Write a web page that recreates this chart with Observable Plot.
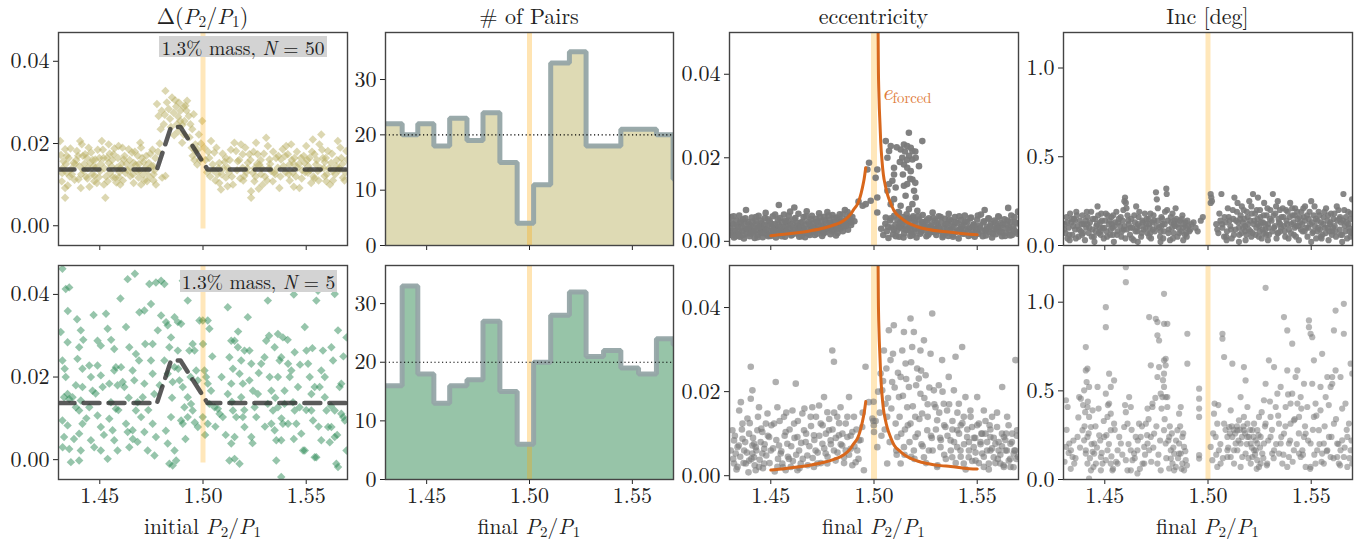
<!DOCTYPE html>
<html>
<head>
<meta charset="utf-8">
<script src="https://cdn.jsdelivr.net/npm/d3@7"></script>
<script src="https://cdn.jsdelivr.net/npm/@observablehq/plot@0.6"></script>
<style>
body{margin:0;background:#fff}
#root{position:relative;width:1369px;height:540px;overflow:hidden;color:#222;background:#fff}
.t{position:absolute;text-align:center;font-size:22px;line-height:22px;white-space:nowrap}
.xl{font-size:21.5px;line-height:20px}
sub{font-size:70%;vertical-align:-0.22em;line-height:0}
.panel{position:absolute}
.box{position:absolute;background:#d3d3d3;font-size:19.5px;line-height:22px;text-align:center;white-space:nowrap}
</style>
</head>
<body>
<div id="root"></div>
<script>
// ---------------- data ----------------
const xTicks = [1.45, 1.50, 1.55];
const titles = ["Δ(<i>P</i><sub>2</sub>/<i>P</i><sub>1</sub>)", "# of Pairs", "eccentricity", "Inc [deg]"];
const xLabels = ["initial <i>P</i><sub>2</sub>/<i>P</i><sub>1</sub>", "final <i>P</i><sub>2</sub>/<i>P</i><sub>1</sub>", "final <i>P</i><sub>2</sub>/<i>P</i><sub>1</sub>", "final <i>P</i><sub>2</sub>/<i>P</i><sub>1</sub>"];
const boxLabels = ["1.3% mass, <i>N</i> = 50", "1.3% mass, <i>N</i> = 5"];

// binned median of Δ(P2/P1)
const medX = [1.43, 1.4777, 1.4845, 1.4891, 1.5022, 1.57];
const medY = [0.0137, 0.0137, 0.0240, 0.0240, 0.0137, 0.0137];

// histogram bins (final P2/P1)
const binEdges = [1.422, 1.4381, 1.4457, 1.4535, 1.4612, 1.4696, 1.4774, 1.4856, 1.4940, 1.5020, 1.5103, 1.5194, 1.5275, 1.5360, 1.5444, 1.5530, 1.5617, 1.5698, 1.578];
const countsTop = [22, 20, 22, 18, 23, 19, 24, 15, 4, 11, 33, 35, 18, 18, 21, 21, 20, 12];
const countsBot = [16, 33, 18, 13, 16, 17, 27, 15, 6, 20, 28, 32, 21, 22, 19, 18, 24, 23];

// forced eccentricity curve
const eForcedLeft = [[1.4500,0.00136],[1.4565,0.00168],[1.4629,0.00207],[1.4694,0.00255],[1.4758,0.00319],[1.4806,0.00390],[1.4839,0.00454],[1.4863,0.00533],[1.4887,0.00652],[1.4903,0.00771],[1.4920,0.00890],[1.4932,0.01049],[1.4944,0.01287],[1.4952,0.01485],[1.4960,0.01763]];
const eForcedRight = [[1.50195,0.0525],[1.50211,0.0422],[1.50243,0.0343],[1.50292,0.0279],[1.50324,0.0240],[1.50389,0.0192],[1.50453,0.0160],[1.50550,0.0133],[1.50647,0.0113],[1.50808,0.0091],[1.50969,0.0073],[1.51292,0.0057],[1.51614,0.0045],[1.52098,0.0035],[1.52582,0.0029],[1.53227,0.0024],[1.53711,0.0022],[1.54356,0.0018],[1.55001,0.0016]];

// Δ(P2/P1) vs initial P2/P1, N = 50
const dpTop = [
[1.4308,0.0206],[1.4332,0.0186],[1.4324,0.0157],[1.4349,0.0165],[1.4340,0.0129],[1.4316,0.0108],[1.4332,0.0092],[1.4332,0.0068],[1.4373,0.0153],[1.4365,0.0125],[1.4389,0.0182],[1.4397,0.0113],[1.4405,0.0206],[1.4413,0.0198],[1.4429,0.0174],[1.4438,0.0165],[1.4446,0.0190],[1.4454,0.0153],[1.4462,0.0125],[1.4470,0.0145],[1.4478,0.0161],[1.4486,0.0104],[1.4502,0.0133],[1.4510,0.0206],[1.4527,0.0068],[1.4518,0.0165],[1.4543,0.0198],[1.4543,0.0153],[1.4551,0.0129],[1.4567,0.0174],[1.4575,0.0117],[1.4583,0.0141],[1.4591,0.0194],[1.4599,0.0100],[1.4616,0.0161],[1.4624,0.0129],[1.4640,0.0186],[1.4648,0.0121],[1.4664,0.0153],[1.4664,0.0104],[1.4680,0.0133],[1.4688,0.0117],[1.4696,0.0202],[1.4705,0.0165],[1.4721,0.0141],[1.4729,0.0108],[1.4737,0.0153],[1.4761,0.0125],[1.4769,0.0165],
[1.4320,0.0140],[1.4355,0.0120],[1.4380,0.0150],[1.4395,0.0170],[1.4420,0.0135],[1.4440,0.0115],[1.4450,0.0095],[1.4475,0.0122],[1.4490,0.0185],[1.4505,0.0150],[1.4530,0.0120],[1.4560,0.0160],[1.4580,0.0105],[1.4595,0.0130],[1.4610,0.0190],[1.4630,0.0150],[1.4650,0.0140],[1.4670,0.0180],[1.4690,0.0150],[1.4710,0.0125],[1.4730,0.0135],[1.4745,0.0175],[1.4760,0.0145],[1.4340,0.0170],[1.4410,0.0125],[1.4520,0.0100],[1.4600,0.0140],[1.4700,0.0100],[1.4760,0.0110],
[1.4312,0.0172],[1.4318,0.0128],[1.4336,0.0150],[1.4345,0.0098],[1.4358,0.0188],[1.4362,0.0138],[1.4378,0.0112],[1.4386,0.0160],[1.4401,0.0145],[1.4408,0.0092],[1.4418,0.0170],[1.4425,0.0150],[1.4433,0.0120],[1.4442,0.0140],[1.4458,0.0178],[1.4466,0.0160],[1.4473,0.0108],[1.4482,0.0142],[1.4495,0.0118],[1.4498,0.0165],[1.4515,0.0185],[1.4522,0.0140],[1.4535,0.0165],[1.4538,0.0108],[1.4548,0.0175],[1.4557,0.0145],[1.4563,0.0118],[1.4571,0.0188],[1.4588,0.0165],[1.4593,0.0118],[1.4605,0.0150],[1.4612,0.0110],[1.4620,0.0170],[1.4635,0.0135],[1.4644,0.0160],[1.4656,0.0178],[1.4660,0.0125],[1.4674,0.0148],[1.4684,0.0170],[1.4693,0.0135],[1.4700,0.0190],[1.4712,0.0155],[1.4716,0.0110],[1.4725,0.0170],[1.4740,0.0120],[1.4750,0.0145],[1.4755,0.0185],[1.4765,0.0135],[1.4772,0.0100],
[1.4777,0.0296],[1.4785,0.0267],[1.4802,0.0117],[1.4810,0.0247],[1.4818,0.0121],[1.4818,0.0328],[1.4834,0.0284],[1.4850,0.0312],[1.4858,0.0275],[1.4874,0.0247],[1.4883,0.0300],[1.4891,0.0280],[1.4899,0.0202],[1.4907,0.0222],[1.4915,0.0292],[1.4923,0.0304],[1.4931,0.0267],[1.4939,0.0247],[1.4955,0.0271],[1.4963,0.0198],[1.4963,0.0182],[1.4972,0.0149],[1.4980,0.0222],[1.4996,0.0255],
[1.4800,0.0280],[1.4840,0.0260],[1.4870,0.0290],[1.4880,0.0265],[1.4900,0.0245],[1.4920,0.0280],[1.4945,0.0190],[1.4950,0.0170],[1.4985,0.0160],[1.4880,0.0230],[1.4860,0.0220],[1.4790,0.0200],
[1.4782,0.0180],[1.4795,0.0235],[1.4815,0.0270],[1.4825,0.0300],[1.4845,0.0240],[1.4865,0.0305],[1.4890,0.0255],[1.4905,0.0290],[1.4910,0.0255],[1.4935,0.0215],[1.4948,0.0235],[1.4958,0.0160],[1.4975,0.0185],[1.4990,0.0200],
[1.5006,0.0190],[1.5039,0.0206],[1.5030,0.0165],[1.5055,0.0178],[1.5047,0.0149],[1.5079,0.0153],[1.5071,0.0125],[1.5079,0.0104],[1.5087,0.0088],[1.5111,0.0165],[1.5119,0.0141],[1.5111,0.0117],[1.5119,0.0096],[1.5152,0.0202],[1.5160,0.0182],[1.5168,0.0157],[1.5184,0.0198],[1.5192,0.0174],[1.5192,0.0141],[1.5200,0.0121],[1.5217,0.0153],[1.5225,0.0174],[1.5233,0.0084],[1.5233,0.0068],[1.5241,0.0129],[1.5249,0.0108],[1.5257,0.0202],[1.5265,0.0174],[1.5273,0.0149],[1.5281,0.0125],[1.5289,0.0100],[1.5306,0.0214],[1.5314,0.0194],[1.5322,0.0161],[1.5330,0.0133],[1.5338,0.0108],[1.5354,0.0165],[1.5362,0.0141],[1.5370,0.0092],[1.5378,0.0161],[1.5386,0.0186],[1.5403,0.0194],[1.5411,0.0174],[1.5419,0.0149],[1.5427,0.0198],[1.5435,0.0129],[1.5443,0.0165],[1.5459,0.0141],[1.5467,0.0092],[1.5475,0.0165],[1.5492,0.0153],[1.5500,0.0194],[1.5508,0.0129],[1.5516,0.0165],[1.5524,0.0104],[1.5532,0.0210],[1.5540,0.0174],[1.5548,0.0149],[1.5556,0.0133],[1.5564,0.0198],[1.5573,0.0222],[1.5581,0.0165],[1.5589,0.0121],[1.5597,0.0108],[1.5605,0.0182],[1.5621,0.0153],[1.5629,0.0133],[1.5645,0.0145],[1.5653,0.0206],[1.5670,0.0165],[1.5678,0.0117],[1.5694,0.0182],
[1.5020,0.0130],[1.5060,0.0110],[1.5100,0.0140],[1.5140,0.0120],[1.5180,0.0115],[1.5210,0.0130],[1.5250,0.0140],[1.5300,0.0120],[1.5320,0.0140],[1.5350,0.0125],[1.5400,0.0130],[1.5420,0.0110],[1.5450,0.0120],[1.5480,0.0135],[1.5510,0.0145],[1.5540,0.0115],[1.5570,0.0140],[1.5600,0.0125],[1.5630,0.0110],[1.5660,0.0140],[1.5690,0.0130],[1.5130,0.0160],[1.5280,0.0160],[1.5440,0.0150],[1.5590,0.0155],[1.5270,0.0090],
[1.5012,0.0160],[1.5025,0.0180],[1.5035,0.0120],[1.5050,0.0135],[1.5065,0.0190],[1.5075,0.0140],[1.5090,0.0125],[1.5095,0.0175],[1.5105,0.0155],[1.5125,0.0130],[1.5135,0.0185],[1.5145,0.0100],[1.5165,0.0135],[1.5175,0.0160],[1.5195,0.0110],[1.5205,0.0190],[1.5215,0.0140],[1.5230,0.0160],[1.5245,0.0180],[1.5255,0.0120],[1.5262,0.0150],[1.5285,0.0140],[1.5295,0.0175],[1.5310,0.0110],[1.5325,0.0150],[1.5340,0.0180],[1.5345,0.0130],[1.5365,0.0170],[1.5375,0.0120],[1.5390,0.0145],[1.5398,0.0170],[1.5415,0.0125],[1.5430,0.0160],[1.5440,0.0095],[1.5455,0.0180],[1.5465,0.0150],[1.5478,0.0115],[1.5488,0.0170],[1.5495,0.0130],[1.5505,0.0160],[1.5520,0.0135],[1.5528,0.0180],[1.5535,0.0120],[1.5552,0.0160],[1.5560,0.0110],[1.5577,0.0185],[1.5585,0.0140],[1.5595,0.0165],[1.5610,0.0140],[1.5615,0.0100],[1.5625,0.0175],[1.5640,0.0125],[1.5648,0.0160],[1.5658,0.0135],[1.5665,0.0190],[1.5675,0.0150],[1.5685,0.0110],[1.5698,0.0160]
];

// Δ(P2/P1) vs initial P2/P1, N = 5
const dpBot = [
[1.4319,0.0462],[1.4335,0.0413],[1.4352,0.0417],[1.4311,0.0309],[1.4344,0.0284],[1.4319,0.0240],[1.4335,0.0200],[1.4344,0.0159],[1.4327,0.0151],[1.4352,0.0147],[1.4368,0.0151],[1.4319,0.0095],[1.4344,0.0083],[1.4327,0.0055],[1.4352,0.0026],[1.4360,-0.0006],[1.4384,0.0127],[1.4400,0.0119],[1.4408,0.0022],[1.4400,-0.0002],[1.4408,0.0313],[1.4400,0.0272],[1.4416,0.0220],[1.4392,0.0244],[1.4384,0.0180],[1.4416,0.0176],[1.4408,0.0143],[1.4416,0.0087],[1.4400,0.0063],
[1.4449,0.0228],[1.4457,0.0200],[1.4465,0.0167],[1.4449,0.0127],[1.4457,0.0047],[1.4473,0.0030],[1.4489,0.0288],[1.4505,0.0276],[1.4489,0.0228],[1.4505,0.0204],[1.4514,0.0176],[1.4489,0.0107],[1.4505,0.0079],[1.4505,0.0022],[1.4530,0.0353],[1.4538,0.0317],[1.4546,0.0184],[1.4554,0.0139],[1.4546,0.0099],[1.4562,0.0071],[1.4538,0.0002],[1.4570,0.0268],[1.4578,0.0224],[1.4586,0.0180],[1.4578,0.0123],[1.4570,0.0047],[1.4586,0.0022],[1.4570,0.0216],
[1.4603,0.0224],[1.4611,0.0188],[1.4619,0.0176],[1.4627,0.0087],[1.4635,0.0067],[1.4643,0.0030],[1.4627,0.0321],[1.4635,0.0437],[1.4643,0.0272],[1.4659,0.0216],[1.4675,0.0256],[1.4667,0.0192],[1.4683,0.0139],[1.4675,0.0119],[1.4659,0.0071],[1.4683,0.0043],[1.4692,0.0357],[1.4716,0.0361],[1.4716,0.0184],[1.4708,0.0151],[1.4700,0.0103],[1.4716,0.0067],[1.4732,0.0022],[1.4740,0.0425],[1.4748,0.0377],[1.4756,0.0280],[1.4748,0.0240],[1.4756,0.0208],[1.4764,0.0159],[1.4756,0.0087],[1.4772,0.0055],[1.4772,0.0429],[1.4781,0.0313],
[1.4797,0.0433],[1.4813,0.0425],[1.4797,0.0349],[1.4821,0.0333],[1.4829,0.0325],[1.4837,0.0272],[1.4813,0.0240],[1.4829,0.0208],[1.4853,0.0188],[1.4862,0.0224],[1.4845,0.0296],[1.4862,0.0345],[1.4878,0.0333],[1.4894,0.0329],[1.4902,0.0433],[1.4878,0.0264],[1.4886,0.0192],[1.4902,0.0176],[1.4845,0.0103],[1.4829,0.0039],[1.4837,-0.0010],[1.4853,-0.0014],[1.4862,0.0022],[1.4894,0.0095],[1.4902,0.0087],[1.4910,0.0127],[1.4926,0.0151],[1.4942,0.0135],[1.4950,0.0280],[1.4934,0.0264],[1.4959,0.0264],[1.4967,0.0216],[1.4975,0.0192],[1.4983,0.0337],[1.4926,0.0385],[1.4950,0.0119],[1.4975,0.0079],[1.4926,0.0103],[1.4870,-0.0002],
[1.4999,0.0337],[1.5023,0.0337],[1.5031,0.0317],[1.5007,0.0216],[1.5015,0.0200],[1.5023,0.0184],[1.5039,0.0167],[1.4999,0.0103],[1.5023,0.0087],[1.5031,0.0135],[1.5056,0.0127],[1.5072,0.0123],[1.5080,0.0111],[1.5096,0.0103],[1.5120,0.0369],[1.5137,0.0288],[1.5153,0.0288],[1.5128,0.0248],[1.5145,0.0220],[1.5137,0.0184],[1.5120,0.0159],[1.5145,0.0119],[1.5161,0.0103],[1.5137,0.0039],[1.5128,-0.0002],[1.5153,0.0055],[1.5169,0.0272],[1.5185,0.0240],[1.5177,0.0208],[1.5185,0.0151],[1.5193,0.0103],[1.5201,0.0079],[1.5153,0.0002],[1.5177,-0.0010],
[1.5193,0.0184],[1.5201,0.0264],[1.5217,0.0345],[1.5225,0.0264],[1.5234,0.0232],[1.5225,0.0192],[1.5242,0.0167],[1.5250,0.0127],[1.5258,0.0103],[1.5234,0.0055],[1.5266,0.0159],[1.5282,0.0232],[1.5298,0.0248],[1.5314,0.0385],[1.5306,0.0288],[1.5323,0.0200],[1.5331,0.0167],[1.5314,0.0135],[1.5339,0.0119],[1.5347,0.0071],[1.5355,0.0047],[1.5331,0.0087],[1.5355,-0.0002],[1.5363,0.0200],[1.5371,0.0240],[1.5379,0.0248],[1.5387,0.0296],[1.5395,0.0167],[1.5395,0.0135],[1.5387,0.0087],[1.5379,0.0047],[1.5363,0.0127],[1.5347,0.0272],[1.5363,0.0304],
[1.5412,0.0232],[1.5420,0.0200],[1.5428,0.0216],[1.5436,0.0139],[1.5444,0.0260],[1.5452,0.0087],[1.5460,0.0176],[1.5468,0.0127],[1.5476,0.0063],[1.5485,0.0022],[1.5493,0.0022],[1.5493,0.0321],[1.5501,0.0264],[1.5509,0.0232],[1.5517,0.0200],[1.5525,0.0159],[1.5525,0.0119],[1.5533,0.0095],[1.5541,0.0006],[1.5549,0.0006],[1.5549,0.0385],[1.5557,0.0409],[1.5565,0.0176],[1.5573,0.0216],[1.5581,0.0264],[1.5590,0.0151],[1.5598,0.0119],[1.5606,0.0079],[1.5614,0.0042],[1.5622,0.0272],[1.5630,0.0240],[1.5638,0.0119],[1.5646,-0.0010],[1.5654,0.0313],[1.5662,0.0176],[1.5670,0.0184],[1.5670,0.0111],[1.5679,0.0103],[1.5687,0.0095],[1.5695,0.0022],[1.5695,0.0296],[1.5638,0.0401],[1.5654,-0.0018],[1.5573,0.0047],[1.5541,0.0176],[1.5444,0.0119],[1.5412,0.0087],[1.5379,-0.0042],[1.5622,0.0079],[1.5638,0.0055],
[1.4330,0.0220],[1.4345,0.0360],[1.4375,0.0050],[1.4390,0.0340],[1.4420,0.0290],[1.4435,0.0100],[1.4470,0.0350],[1.4480,0.0160],[1.4520,0.0060],[1.4555,0.0290],[1.4590,0.0120],[1.4600,0.0390],[1.4640,0.0150],[1.4660,0.0050],[1.4690,0.0240],[1.4720,0.0280],[1.4735,0.0120],[1.4765,0.0010],[1.4790,0.0180],[1.4820,0.0070],[1.4850,0.0150],[1.4880,0.0220],[1.4915,0.0050],[1.4940,0.0200],[1.4960,0.0090],[1.5010,0.0060],[1.5045,0.0250],[1.5060,0.0080],[1.5090,0.0200],[1.5110,0.0060],[1.5140,0.0140],[1.5170,0.0310],[1.5200,0.0120],[1.5240,0.0040],[1.5270,0.0210],[1.5300,0.0080],[1.5320,0.0300],[1.5350,0.0150],[1.5380,0.0100],[1.5410,0.0290],[1.5440,0.0050],[1.5470,0.0230],[1.5500,0.0120],[1.5530,0.0270],[1.5560,0.0080],[1.5590,0.0200],[1.5620,0.0130],[1.5650,0.0060],[1.5680,0.0250],[1.5440,0.0400],[1.5250,0.0420],[1.5060,0.0440],[1.4670,0.0450],[1.4320,0.0030],[1.5000,0.0280]
];

// eccentricity vs final P2/P1, N = 50
const ecTop = [
[1.4305,.0032],[1.4308,.0058],[1.4312,.0015],[1.4318,.0041],[1.4322,.0009],[1.4327,.0026],[1.4333,.0050],[1.4338,.0018],[1.4342,.0035],[1.4347,.0062],[1.4351,.0011],[1.4356,.0044],[1.4361,.0024],[1.4366,.0053],[1.4370,.0007],[1.4375,.0031],[1.4380,.0075],[1.4384,.0019],[1.4389,.0046],[1.4393,.0028],[1.4398,.0012],[1.4403,.0038],[1.4408,.0057],[1.4413,.0022],[1.4418,.0033],[1.4422,.0008],[1.4427,.0049],[1.4432,.0027],[1.4437,.0016],[1.4441,.0061],[1.4446,.0036],[1.4451,.0021],[1.4456,.0043],[1.4461,.0010],[1.4466,.0030],[1.4471,.0055],[1.4475,.0068],[1.4480,.0017],[1.4485,.0039],[1.4490,.0025],[1.4495,.0048],[1.4500,.0013],[1.4505,.0034],[1.4510,.0060],[1.4515,.0022],[1.4520,.0041],[1.4525,.0009],[1.4530,.0029],[1.4534,.0052],[1.4539,.0087],[1.4544,.0035],[1.4549,.0018],[1.4554,.0046],[1.4559,.0026],[1.4564,.0064],[1.4569,.0011],[1.4574,.0037],[1.4579,.0021],[1.4584,.0050],[1.4589,.0031],[1.4594,.0071],[1.4599,.0014],[1.4604,.0042],[1.4609,.0027],[1.4614,.0081],[1.4619,.0056],[1.4624,.0019],[1.4629,.0038],[1.4634,.0066],[1.4639,.0024],[1.4644,.0045],[1.4649,.0012],[1.4654,.0033],[1.4659,.0058],[1.4664,.0020],[1.4669,.0040],[1.4674,.0072],[1.4679,.0029],[1.4684,.0047],[1.4689,.0015],[1.4694,.0036],[1.4699,.0061],[1.4704,.0023],[1.4709,.0044],[1.4714,.0032],[1.4719,.0054],[1.4724,.0018],[1.4729,.0039],[1.4734,.0067],[1.4739,.0026],[1.4744,.0049],[1.4749,.0013],[1.4754,.0035],[1.4759,.0059],[1.4764,.0022],[1.4769,.0043],[1.4774,.0070],[1.4779,.0030],[1.4784,.0051],[1.4789,.0017],[1.4794,.0038],[1.4799,.0063],[1.4804,.0027],[1.4809,.0046],[1.4814,.0034],[1.4819,.0057],[1.4824,.0020],[1.4829,.0041],[1.4834,.0065],[1.4839,.0031],[1.4844,.0050],[1.4849,.0024],[1.4854,.0044],[1.4859,.0075],[1.4864,.0036],[1.4869,.0055],[1.4874,.0028],[1.4879,.0047],[1.4884,.0062],[1.4889,.0039],[1.4895,.0058],[1.4905,.0048],[1.4925,.0095],[1.4945,.0085],
[1.4315,.0025],[1.4345,.0014],[1.4372,.0045],[1.4400,.0027],[1.4430,.0040],[1.4458,.0029],[1.4488,.0012],[1.4518,.0030],[1.4546,.0024],[1.4576,.0046],[1.4606,.0020],[1.4636,.0030],[1.4666,.0010],[1.4696,.0026],[1.4726,.0046],[1.4756,.0024],[1.4786,.0033],[1.4816,.0014],[1.4846,.0037],[1.4876,.0045],
[1.4302,.0020],[1.4310,.0044],[1.4320,.0060],[1.4329,.0012],[1.4336,.0038],[1.4344,.0023],[1.4353,.0048],[1.4360,.0033],[1.4368,.0016],[1.4377,.0055],[1.4386,.0030],[1.4395,.0041],[1.4402,.0018],[1.4411,.0047],[1.4420,.0025],[1.4428,.0058],[1.4436,.0010],[1.4444,.0034],[1.4453,.0050],[1.4462,.0020],[1.4470,.0039],[1.4478,.0027],[1.4486,.0053],[1.4494,.0015],[1.4503,.0042],[1.4512,.0026],[1.4521,.0064],[1.4528,.0019],[1.4536,.0040],[1.4545,.0056],[1.4553,.0012],[1.4561,.0033],[1.4570,.0049],[1.4578,.0024],[1.4587,.0061],[1.4595,.0038],[1.4603,.0016],[1.4612,.0052],[1.4620,.0030],[1.4630,.0044],[1.4638,.0011],[1.4646,.0034],[1.4655,.0047],[1.4662,.0026],[1.4671,.0060],[1.4680,.0018],[1.4688,.0041],[1.4696,.0053],[1.4705,.0031],[1.4713,.0015],[1.4722,.0046],[1.4730,.0028],[1.4738,.0058],[1.4747,.0037],[1.4755,.0019],[1.4763,.0050],[1.4772,.0032],[1.4780,.0062],[1.4788,.0043],[1.4797,.0024],[1.4806,.0056],[1.4813,.0040],[1.4822,.0030],[1.4831,.0052],[1.4840,.0045],[1.4848,.0064],[1.4856,.0038],[1.4865,.0048],[1.4872,.0070],[1.4882,.0052],[1.4890,.0045],
[1.4976,.0188],[1.4968,.0172],[1.5016,.0172],[1.5008,.0152],[1.5016,.0105],[1.4984,.0097],[1.5016,.0069],[1.4960,.0089],[1.5057,.0240],[1.5081,.0228],[1.5073,.0216],[1.5065,.0200],[1.5097,.0176],[1.5097,.0160],[1.5089,.0145],[1.5073,.0137],[1.5105,.0129],[1.5065,.0121],[1.5145,.0232],[1.5161,.0228],[1.5169,.0260],[1.5178,.0224],[1.5129,.0220],[1.5137,.0200],[1.5186,.0216],[1.5234,.0240],[1.5186,.0196],[1.5145,.0184],[1.5161,.0176],[1.5202,.0200],[1.5218,.0180],[1.5178,.0168],[1.5186,.0148],[1.5161,.0137],[1.5145,.0133],[1.5194,.0121],[1.5153,.0109],[1.5202,.0105],[1.5186,.0089],[1.5169,.0077],[1.5129,.0085],[1.5121,.0069],[1.5210,.0073],[1.5097,.0101],[1.5081,.0089],[1.5057,.0057],
[1.5110,.0225],[1.5150,.0215],[1.5170,.0205],[1.5125,.0190],[1.5200,.0215],[1.5160,.0195],[1.5140,.0160],[1.5175,.0150],[1.5200,.0140],[1.5190,.0060],[1.5165,.0055],[1.5140,.0050],
[1.5035,.0030],[1.5045,.0015],[1.5055,.0042],[1.5062,.0024],[1.5070,.0008],[1.5078,.0050],[1.5085,.0033],[1.5092,.0017],[1.5098,.0061],[1.5104,.0040],[1.5110,.0025],[1.5116,.0070],[1.5122,.0011],[1.5128,.0046],[1.5134,.0031],[1.5140,.0058],[1.5146,.0019],[1.5152,.0038],[1.5158,.0065],[1.5164,.0027],[1.5170,.0049],[1.5176,.0013],[1.5182,.0036],[1.5188,.0056],[1.5194,.0022],[1.5200,.0043],[1.5206,.0009],[1.5212,.0031],[1.5218,.0052],[1.5224,.0018],[1.5230,.0040],[1.5236,.0063],[1.5242,.0026],[1.5248,.0047],[1.5254,.0012],[1.5260,.0034],[1.5266,.0055],[1.5272,.0021],[1.5278,.0041],[1.5284,.0069],[1.5290,.0029],[1.5296,.0050],[1.5302,.0015],[1.5308,.0037],[1.5314,.0060],[1.5320,.0024],[1.5326,.0045],[1.5332,.0010],[1.5338,.0032],[1.5344,.0054],[1.5350,.0020],[1.5356,.0042],[1.5362,.0066],[1.5368,.0028],[1.5374,.0048],[1.5380,.0016],[1.5386,.0035],[1.5392,.0058],[1.5398,.0023],[1.5404,.0044],[1.5410,.0007],[1.5416,.0030],[1.5422,.0051],[1.5428,.0019],[1.5434,.0039],[1.5440,.0062],[1.5446,.0026],[1.5452,.0046],[1.5458,.0013],[1.5464,.0033],[1.5470,.0057],[1.5476,.0021],[1.5482,.0041],[1.5488,.0011],[1.5494,.0030],[1.5500,.0052],[1.5506,.0018],[1.5512,.0038],[1.5518,.0064],[1.5524,.0025],[1.5530,.0045],[1.5536,.0075],[1.5542,.0014],[1.5548,.0034],[1.5554,.0055],[1.5560,.0022],[1.5566,.0042],[1.5572,.0009],[1.5578,.0029],[1.5584,.0050],[1.5590,.0017],[1.5596,.0037],[1.5602,.0060],[1.5608,.0024],[1.5614,.0044],[1.5620,.0012],[1.5626,.0032],[1.5632,.0053],[1.5638,.0020],[1.5644,.0040],[1.5650,.0080],[1.5656,.0027],[1.5662,.0047],[1.5668,.0015],[1.5674,.0035],[1.5680,.0058],[1.5686,.0023],[1.5692,.0043],[1.5698,.0071],
[1.5120,.0035],[1.5180,.0025],[1.5240,.0040],[1.5300,.0030],[1.5360,.0013],[1.5420,.0028],[1.5480,.0035],[1.5540,.0026],[1.5600,.0032],[1.5660,.0014],
[1.5068,.0035],[1.5082,.0055],[1.5095,.0028],[1.5106,.0012],[1.5113,.0052],[1.5125,.0034],[1.5137,.0044],[1.5143,.0009],[1.5155,.0028],[1.5167,.0054],[1.5173,.0035],[1.5185,.0015],[1.5197,.0049],[1.5203,.0030],[1.5215,.0060],[1.5227,.0023],[1.5233,.0046],[1.5245,.0034],[1.5257,.0051],[1.5263,.0016],[1.5275,.0036],[1.5287,.0056],[1.5293,.0022],[1.5305,.0044],[1.5317,.0032],[1.5323,.0058],[1.5335,.0014],[1.5347,.0041],[1.5353,.0028],[1.5365,.0052],[1.5377,.0034],[1.5383,.0011],[1.5395,.0046],[1.5407,.0025],[1.5413,.0060],[1.5425,.0036],[1.5437,.0018],[1.5443,.0048],[1.5455,.0030],[1.5467,.0055],[1.5473,.0016],[1.5485,.0039],[1.5497,.0026],[1.5503,.0062],[1.5515,.0033],[1.5527,.0012],[1.5533,.0048],[1.5545,.0028],[1.5557,.0054],[1.5563,.0036],[1.5575,.0019],[1.5587,.0045],[1.5593,.0030],[1.5605,.0058],[1.5617,.0022],[1.5623,.0040],[1.5635,.0013],[1.5647,.0050],[1.5653,.0033],[1.5665,.0062],[1.5677,.0028],[1.5683,.0046],[1.5695,.0018]
];

// eccentricity vs final P2/P1, N = 5
const ecBot = [
[1.4314,0.0108],[1.4322,0.0084],[1.4330,0.0053],[1.4339,0.0021],[1.4347,0.0155],[1.4355,0.0175],[1.4363,0.0124],[1.4371,0.0060],[1.4379,0.0029],[1.4387,0.0136],[1.4395,0.0100],[1.4403,0.0259],[1.4411,0.0203],[1.4403,0.0183],[1.4411,0.0072],[1.4419,0.0044],[1.4427,0.0013],[1.4435,0.0108],[1.4443,0.0163],[1.4451,0.0080],[1.4459,0.0053],[1.4468,0.0029],[1.4476,0.0124],[1.4484,0.0148],[1.4492,0.0092],[1.4500,0.0060],[1.4411,0.0053],[1.4419,0.0076],[1.4395,0.0036],[1.4363,0.0088],[1.4339,0.0068],[1.4322,0.0029],[1.4443,0.0021],[1.4459,0.0104],[1.4427,0.0068],[1.4468,0.0064],
[1.4516,0.0124],[1.4524,0.0223],[1.4532,0.0163],[1.4540,0.0072],[1.4548,0.0053],[1.4556,0.0029],[1.4564,0.0140],[1.4572,0.0104],[1.4580,0.0076],[1.4588,0.0040],[1.4597,0.0021],[1.4605,0.0155],[1.4613,0.0124],[1.4621,0.0219],[1.4629,0.0092],[1.4637,0.0060],[1.4645,0.0029],[1.4653,0.0148],[1.4661,0.0108],[1.4669,0.0080],[1.4677,0.0048],[1.4693,0.0140],[1.4701,0.0163],[1.4709,0.0096],[1.4717,0.0060],[1.4726,0.0029],[1.4734,0.0167],[1.4742,0.0124],[1.4750,0.0076],[1.4758,0.0187],[1.4766,0.0053],[1.4774,0.0151],[1.4782,0.0108],[1.4790,0.0084],[1.4798,0.0298],[1.4806,0.0271],[1.4806,0.0060],[1.4814,0.0036],[1.4822,0.0140],[1.4830,0.0096],[1.4838,0.0163],[1.4846,0.0072],[1.4855,0.0044],[1.4863,0.0124],[1.4871,0.0092],[1.4879,0.0187],[1.4887,0.0064],[1.4895,0.0104],[1.4903,0.0140],[1.4911,0.0032],[1.4919,0.0060],[1.4927,0.0084],[1.4943,0.0116],[1.4951,0.0013],[1.4774,0.0029],[1.4709,0.0021],[1.4629,0.0013],[1.4572,0.0013],[1.4532,0.0021],
[1.4306,0.0060],[1.4318,0.0040],[1.4326,0.0095],[1.4334,0.0015],[1.4345,0.0072],[1.4352,0.0045],[1.4360,0.0110],[1.4368,0.0030],[1.4376,0.0080],[1.4384,0.0055],[1.4392,0.0008],[1.4398,0.0125],[1.4406,0.0040],[1.4414,0.0090],[1.4422,0.0025],[1.4430,0.0060],[1.4438,0.0140],[1.4446,0.0038],[1.4454,0.0112],[1.4462,0.0018],[1.4470,0.0075],[1.4478,0.0048],[1.4486,0.0095],[1.4494,0.0030],[1.4503,0.0120],[1.4511,0.0065],[1.4519,0.0010],[1.4527,0.0085],[1.4535,0.0040],[1.4543,0.0130],[1.4551,0.0058],[1.4559,0.0020],[1.4567,0.0095],[1.4575,0.0150],[1.4583,0.0045],[1.4591,0.0110],[1.4599,0.0070],[1.4607,0.0035],[1.4615,0.0090],[1.4623,0.0050],[1.4631,0.0130],[1.4639,0.0018],[1.4647,0.0078],[1.4655,0.0040],[1.4663,0.0160],[1.4671,0.0100],[1.4679,0.0025],[1.4687,0.0070],[1.4695,0.0118],[1.4703,0.0042],[1.4711,0.0085],[1.4719,0.0140],[1.4727,0.0055],[1.4735,0.0095],[1.4743,0.0030],[1.4751,0.0120],[1.4759,0.0065],[1.4767,0.0100],[1.4775,0.0045],[1.4783,0.0135],[1.4791,0.0075],[1.4799,0.0110],[1.4807,0.0150],[1.4815,0.0090],[1.4823,0.0055],[1.4831,0.0125],[1.4839,0.0075],[1.4847,0.0100],[1.4855,0.0030],[1.4863,0.0060],[1.4871,0.0140],[1.4879,0.0050],[1.4887,0.0095],[1.4895,0.0025],[1.4905,0.0070],[1.4915,0.0110],[1.4925,0.0040],[1.4935,0.0085],[1.4945,0.0150],
[1.4959,0.0259],[1.4975,0.0175],[1.4992,0.0136],[1.5000,0.0104],[1.5016,0.0068],[1.5032,0.0243],[1.5040,0.0203],[1.5048,0.0298],[1.5056,0.0171],[1.5064,0.0140],[1.5072,0.0346],[1.5080,0.0275],[1.5088,0.0223],[1.5096,0.0358],[1.5105,0.0124],[1.5113,0.0092],[1.5121,0.0187],[1.5129,0.0235],[1.5137,0.0298],[1.5145,0.0342],[1.5145,0.0068],[1.5153,0.0267],[1.5161,0.0163],[1.5169,0.0211],[1.5177,0.0374],[1.5177,0.0124],[1.5185,0.0306],[1.5193,0.0342],[1.5201,0.0092],[1.5209,0.0255],[1.5217,0.0231],[1.5225,0.0298],[1.5225,0.0195],[1.5233,0.0148],[1.5242,0.0322],[1.5250,0.0239],[1.5258,0.0108],[1.5266,0.0060],[1.5274,0.0290],[1.5282,0.0386],[1.5290,0.0203],[1.5298,0.0163],[1.5306,0.0132],[1.5314,0.0215],[1.5322,0.0068],[1.5330,0.0275],[1.5338,0.0171],[1.5346,0.0116],[1.5354,0.0155],[1.5362,0.0235],[1.5371,0.0084],[1.5379,0.0044],[1.5387,0.0203],[1.5395,0.0283],[1.5403,0.0108],[1.5411,0.0171],[1.5419,0.0060],[1.5427,0.0306],[1.5435,0.0140],[1.5443,0.0187],[1.5451,0.0092],[1.5459,0.0044],[1.5467,0.0155],[1.5475,0.0116],[1.5483,0.0068],[1.5492,0.0036],[1.5500,0.0187],[1.5508,0.0124],[1.5516,0.0080],[1.5524,0.0053],[1.5532,0.0155],[1.5540,0.0100],[1.5548,0.0060],[1.5556,0.0029],[1.5564,0.0092],[1.5572,0.0140],[1.5580,0.0044],[1.5588,0.0076],[1.5596,0.0116],[1.5604,0.0060],[1.5612,0.0029],[1.5621,0.0211],[1.5629,0.0092],[1.5637,0.0060],[1.5645,0.0140],[1.5653,0.0036],[1.5661,0.0076],[1.5669,0.0100],[1.5677,0.0053],[1.5685,0.0275],[1.5693,0.0108],
[1.5129,0.0029],[1.5242,0.0044],[1.5306,0.0021],[1.5435,0.0029],[1.5532,0.0021],[1.5629,0.0021],[1.5661,0.0021],[1.5064,0.0029],[1.5193,0.0060],[1.5403,0.0068],[1.5564,0.0060],
[1.5180,0.0045],[1.5230,0.0075],[1.5280,0.0090],[1.5340,0.0050],[1.5380,0.0110],[1.5460,0.0080],[1.5520,0.0100],[1.5600,0.0040],[1.5640,0.0100],[1.5680,0.0060],[1.5110,0.0050],[1.5150,0.0110],[1.5200,0.0140],[1.5260,0.0170],[1.5320,0.0090],[1.5420,0.0120],[1.5490,0.0090],[1.5560,0.0120],[1.5620,0.0070],[1.5690,0.0040],
[1.4998,0.0176],[1.4997,0.0130],[1.4999,0.0120],
[1.5008,0.0130],[1.5020,0.0200],[1.5028,0.0150],[1.5036,0.0095],[1.5044,0.0225],[1.5052,0.0110],[1.5060,0.0255],[1.5068,0.0185],[1.5076,0.0080],[1.5084,0.0160],[1.5092,0.0290],[1.5100,0.0210],[1.5108,0.0060],[1.5116,0.0245],[1.5124,0.0140],[1.5132,0.0100],[1.5140,0.0190],[1.5148,0.0050],[1.5156,0.0230],[1.5164,0.0120],[1.5172,0.0080],[1.5180,0.0270],[1.5188,0.0165],[1.5196,0.0040],[1.5204,0.0215],[1.5212,0.0100],[1.5220,0.0135],[1.5228,0.0250],[1.5236,0.0070],[1.5244,0.0185],[1.5252,0.0030],[1.5260,0.0140],[1.5268,0.0210],[1.5276,0.0095],[1.5284,0.0060],[1.5292,0.0170],[1.5300,0.0110],[1.5308,0.0025],[1.5316,0.0150],[1.5324,0.0085],[1.5332,0.0200],[1.5340,0.0120],[1.5348,0.0040],[1.5356,0.0095],[1.5364,0.0170],[1.5372,0.0060],[1.5380,0.0130],[1.5388,0.0080],[1.5396,0.0030],[1.5404,0.0150],[1.5412,0.0100],[1.5420,0.0045],[1.5428,0.0125],[1.5436,0.0075],[1.5444,0.0015],[1.5452,0.0110],[1.5460,0.0060],[1.5468,0.0140],[1.5476,0.0035],[1.5484,0.0090],[1.5492,0.0055],[1.5500,0.0120],[1.5508,0.0030],[1.5516,0.0075],[1.5524,0.0100],[1.5532,0.0045],[1.5540,0.0130],[1.5548,0.0080],[1.5556,0.0015],[1.5564,0.0110],[1.5572,0.0065],[1.5580,0.0090],[1.5588,0.0030],[1.5596,0.0150],[1.5604,0.0080],[1.5612,0.0050],[1.5620,0.0100],[1.5628,0.0025],[1.5636,0.0085],[1.5644,0.0060],[1.5652,0.0120],[1.5660,0.0040],[1.5668,0.0080],[1.5676,0.0020],[1.5684,0.0060],[1.5692,0.0095],[1.5698,0.0045]
];

// inclination vs final P2/P1, N = 50
const incTop = [
[1.4305,0.12],[1.4310,0.07],[1.4315,0.16],[1.4320,0.04],[1.4325,0.10],[1.4332,0.18],[1.4338,0.13],[1.4343,0.06],[1.4350,0.15],[1.4356,0.09],[1.4362,0.19],[1.4368,0.11],[1.4373,0.05],[1.4379,0.14],[1.4385,0.08],[1.4392,0.17],[1.4398,0.12],[1.4404,0.03],[1.4410,0.10],[1.4416,0.16],[1.4422,0.07],[1.4428,0.13],[1.4434,0.19],[1.4440,0.09],[1.4447,0.05],[1.4453,0.15],[1.4459,0.11],[1.4465,0.22],[1.4471,0.07],[1.4477,0.13],[1.4483,0.18],[1.4489,0.10],[1.4495,0.04],[1.4501,0.14],[1.4508,0.08],[1.4514,0.17],[1.4520,0.12],[1.4526,0.06],[1.4532,0.16],[1.4538,0.10],[1.4544,0.02],[1.4550,0.13],[1.4556,0.19],[1.4562,0.08],[1.4568,0.15],[1.4574,0.11],[1.4580,0.05],[1.4586,0.14],[1.4592,0.09],[1.4598,0.27],[1.4602,0.24],[1.4605,0.21],[1.4610,0.17],[1.4616,0.12],[1.4622,0.06],[1.4628,0.15],[1.4634,0.10],[1.4640,0.03],[1.4646,0.13],[1.4652,0.22],[1.4658,0.08],[1.4664,0.16],[1.4670,0.11],[1.4676,0.05],[1.4682,0.14],[1.4688,0.09],[1.4694,0.18],[1.4700,0.12],[1.4706,0.07],[1.4712,0.15],[1.4718,0.10],[1.4724,0.04],[1.4730,0.13],[1.4736,0.17],[1.4742,0.08],[1.4748,0.30],[1.4752,0.26],[1.4756,0.14],[1.4762,0.10],[1.4768,0.05],[1.4774,0.16],[1.4780,0.12],[1.4786,0.08],[1.4792,0.19],[1.4798,0.32],[1.4800,0.29],[1.4805,0.14],[1.4810,0.09],[1.4816,0.03],[1.4822,0.13],[1.4828,0.18],[1.4834,0.07],[1.4840,0.11],[1.4846,0.15],[1.4852,0.05],[1.4858,0.10],[1.4864,0.14],[1.4870,0.08],[1.4876,0.17],[1.4882,0.12],[1.4888,0.06],[1.4894,0.10],[1.4900,0.14],[1.4910,0.08],[1.4920,0.12],[1.4940,0.10],[1.4965,0.14],[1.4975,0.16],
[1.4330,0.03],[1.4390,0.06],[1.4450,0.02],[1.4480,0.08],[1.4540,0.06],[1.4600,0.04],[1.4660,0.02],[1.4720,0.07],[1.4770,0.02],[1.4830,0.04],[1.4880,0.03],[1.4355,0.14],[1.4415,0.12],[1.4475,0.10],[1.4535,0.12],[1.4595,0.11],[1.4655,0.10],[1.4715,0.12],[1.4775,0.11],[1.4835,0.12],[1.4895,0.07],
[1.4303,0.09],[1.4318,0.13],[1.4328,0.06],[1.4340,0.15],[1.4347,0.11],[1.4360,0.04],[1.4365,0.17],[1.4376,0.09],[1.4388,0.12],[1.4395,0.07],[1.4407,0.14],[1.4413,0.19],[1.4425,0.10],[1.4437,0.05],[1.4443,0.15],[1.4456,0.08],[1.4462,0.12],[1.4468,0.17],[1.4480,0.06],[1.4486,0.14],[1.4498,0.10],[1.4505,0.18],[1.4511,0.05],[1.4523,0.14],[1.4529,0.09],[1.4541,0.17],[1.4547,0.11],[1.4559,0.06],[1.4565,0.13],[1.4577,0.16],[1.4583,0.08],[1.4590,0.20],[1.4595,0.25],[1.4607,0.09],[1.4613,0.14],[1.4625,0.10],[1.4631,0.04],[1.4643,0.17],[1.4649,0.08],[1.4661,0.12],[1.4667,0.19],[1.4679,0.07],[1.4685,0.13],[1.4697,0.10],[1.4703,0.15],[1.4715,0.05],[1.4721,0.18],[1.4733,0.09],[1.4739,0.14],[1.4751,0.11],[1.4757,0.21],[1.4770,0.08],[1.4778,0.15],[1.4783,0.04],[1.4790,0.12],[1.4802,0.20],[1.4808,0.07],[1.4820,0.16],[1.4826,0.10],[1.4838,0.14],[1.4843,0.21],[1.4855,0.12],[1.4861,0.07],[1.4873,0.15],[1.4879,0.10],[1.4891,0.13],[1.4897,0.05],[1.4905,0.11],[1.4915,0.09],[1.4930,0.13],[1.4950,0.08],
[1.5013,0.29],[1.5016,0.27],[1.5013,0.24],[1.5019,0.25],
[1.5040,0.12],[1.5050,0.07],[1.5060,0.14],[1.5065,0.29],[1.5070,0.10],[1.5078,0.05],[1.5085,0.13],[1.5092,0.08],[1.5100,0.16],[1.5108,0.11],[1.5115,0.04],[1.5122,0.15],[1.5128,0.27],[1.5133,0.09],[1.5140,0.19],[1.5146,0.13],[1.5152,0.06],[1.5158,0.17],[1.5164,0.22],[1.5170,0.10],[1.5176,0.15],[1.5182,0.03],[1.5188,0.19],[1.5194,0.12],[1.5200,0.25],[1.5206,0.08],[1.5212,0.18],[1.5218,0.29],[1.5224,0.14],[1.5230,0.06],[1.5236,0.20],[1.5242,0.27],[1.5248,0.11],[1.5254,0.16],[1.5260,0.04],[1.5266,0.13],[1.5272,0.24],[1.5278,0.09],[1.5284,0.17],[1.5290,0.12],[1.5296,0.06],[1.5302,0.20],[1.5308,0.14],[1.5314,0.29],[1.5320,0.10],[1.5326,0.18],[1.5332,0.04],[1.5338,0.25],[1.5344,0.13],[1.5350,0.08],[1.5356,0.16],[1.5362,0.21],[1.5368,0.11],[1.5374,0.05],[1.5380,0.14],[1.5386,0.19],[1.5392,0.09],[1.5398,0.24],[1.5404,0.12],[1.5410,0.17],[1.5416,0.06],[1.5422,0.21],[1.5428,0.11],[1.5434,0.15],[1.5440,0.03],[1.5446,0.13],[1.5452,0.19],[1.5458,0.08],[1.5464,0.16],[1.5470,0.22],[1.5476,0.10],[1.5482,0.05],[1.5488,0.15],[1.5494,0.12],[1.5500,0.25],[1.5506,0.07],[1.5512,0.17],[1.5518,0.11],[1.5524,0.04],[1.5530,0.14],[1.5536,0.19],[1.5542,0.09],[1.5548,0.13],[1.5554,0.06],[1.5560,0.16],[1.5566,0.10],[1.5572,0.21],[1.5578,0.14],[1.5584,0.03],[1.5590,0.12],[1.5596,0.18],[1.5602,0.08],[1.5608,0.15],[1.5614,0.11],[1.5620,0.05],[1.5626,0.14],[1.5632,0.20],[1.5638,0.09],[1.5644,0.13],[1.5650,0.06],[1.5656,0.29],[1.5662,0.11],[1.5668,0.16],[1.5674,0.04],[1.5680,0.12],[1.5686,0.08],[1.5692,0.18],[1.5698,0.26],
[1.5090,0.03],[1.5150,0.02],[1.5210,0.05],[1.5250,0.08],[1.5290,0.03],[1.5340,0.07],[1.5390,0.04],[1.5450,0.09],[1.5500,0.02],[1.5550,0.04],[1.5600,0.06],[1.5650,0.02],[1.5690,0.05],[1.5180,0.08],[1.5240,0.12],[1.5270,0.07],[1.5350,0.12],[1.5420,0.10],[1.5470,0.14],[1.5530,0.08],[1.5580,0.10],[1.5640,0.16],
[1.5045,0.09],[1.5055,0.18],[1.5068,0.12],[1.5080,0.16],[1.5088,0.05],[1.5096,0.21],[1.5104,0.14],[1.5112,0.09],[1.5120,0.20],[1.5126,0.06],[1.5136,0.14],[1.5143,0.24],[1.5150,0.10],[1.5156,0.15],[1.5162,0.07],[1.5168,0.13],[1.5173,0.20],[1.5180,0.11],[1.5186,0.06],[1.5192,0.16],[1.5198,0.09],[1.5204,0.14],[1.5210,0.22],[1.5216,0.07],[1.5222,0.12],[1.5228,0.18],[1.5234,0.10],[1.5240,0.15],[1.5246,0.05],[1.5252,0.20],[1.5258,0.13],[1.5264,0.09],[1.5270,0.17],[1.5276,0.12],[1.5282,0.06],[1.5288,0.21],[1.5294,0.10],[1.5300,0.15],[1.5312,0.08],[1.5318,0.17],[1.5324,0.11],[1.5330,0.22],[1.5336,0.07],[1.5342,0.15],[1.5348,0.20],[1.5354,0.10],[1.5366,0.16],[1.5372,0.08],[1.5378,0.20],[1.5384,0.12],[1.5396,0.16],[1.5402,0.07],[1.5408,0.21],[1.5414,0.13],[1.5420,0.17],[1.5426,0.05],[1.5432,0.19],[1.5438,0.11],[1.5444,0.16],[1.5456,0.12],[1.5462,0.21],[1.5468,0.08],[1.5480,0.17],[1.5486,0.10],[1.5492,0.19],[1.5504,0.13],[1.5510,0.08],[1.5516,0.22],[1.5522,0.15],[1.5534,0.10],[1.5540,0.17],[1.5546,0.05],[1.5558,0.12],[1.5564,0.19],[1.5570,0.07],[1.5582,0.17],[1.5588,0.08],[1.5594,0.13],[1.5606,0.10],[1.5612,0.18],[1.5618,0.08],[1.5624,0.22],[1.5636,0.15],[1.5642,0.06],[1.5654,0.14],[1.5660,0.20],[1.5666,0.08],[1.5672,0.13],[1.5678,0.19],[1.5684,0.10],[1.5690,0.15],[1.5696,0.07]
];

// inclination vs final P2/P1, N = 5
const incBot = [
[1.4312,0.447],[1.4320,0.409],[1.4328,0.203],[1.4336,0.165],[1.4344,0.127],[1.4312,0.184],[1.4352,0.090],[1.4368,0.240],[1.4376,0.465],[1.4384,0.456],[1.4392,0.278],[1.4400,0.221],[1.4408,0.165],[1.4400,0.503],[1.4408,0.615],[1.4416,0.625],[1.4424,0.522],[1.4416,0.409],[1.4424,0.353],[1.4433,0.296],[1.4416,0.240],[1.4408,0.146],[1.4416,0.090],[1.4433,0.052],[1.4424,0.005],[1.4441,0.156],[1.4408,0.747],[1.4441,0.390],[1.4449,0.203],[1.4465,0.522],[1.4473,0.249],[1.4481,0.127],[1.4489,0.090],[1.4497,0.240],[1.4505,0.484],[1.4513,0.353],[1.4521,0.597],[1.4529,0.522],[1.4521,0.428],[1.4529,0.371],[1.4513,0.165],[1.4505,0.109],[1.4529,0.090],[1.4537,0.052],[1.4545,0.559],[1.4545,0.315],[1.4529,0.278],[1.4505,0.972],[1.4505,0.859],
[1.4562,0.165],[1.4578,0.203],[1.4594,0.296],[1.4610,0.315],[1.4618,0.465],[1.4626,0.409],[1.4626,0.165],[1.4634,0.109],[1.4626,0.052],[1.4642,0.146],[1.4650,0.240],[1.4658,0.165],[1.4666,0.315],[1.4674,0.240],[1.4683,0.090],[1.4691,0.184],[1.4699,0.315],[1.4707,0.400],[1.4707,0.203],[1.4715,0.165],[1.4723,0.240],[1.4731,0.428],[1.4731,0.409],[1.4739,0.259],[1.4723,0.644],[1.4715,0.916],[1.4747,0.906],[1.4755,0.888],[1.4755,0.813],[1.4763,0.784],[1.4763,0.634],[1.4755,0.578],[1.4771,0.484],[1.4779,0.465],[1.4787,0.672],[1.4795,0.681],[1.4795,0.644],[1.4787,0.597],[1.4795,0.465],[1.4803,0.465],[1.4803,0.409],[1.4787,0.278],[1.4795,0.203],[1.4812,0.240],[1.4820,0.165],[1.4828,0.090],[1.4836,0.146],[1.4812,0.062],[1.4787,1.047],[1.4787,0.878],[1.4787,0.522],[1.4803,0.878],[1.4836,0.052],
[1.4852,0.278],[1.4860,0.203],[1.4868,0.409],[1.4876,0.240],[1.4884,0.184],[1.4876,0.090],[1.4884,0.052],[1.4892,0.109],[1.4900,0.822],[1.4900,0.653],[1.4860,0.371],[1.4860,0.146],[1.4957,0.512],[1.4957,0.456],[1.4957,0.400],[1.4957,0.353],[1.4957,0.137],[1.4957,0.118],[1.4868,0.146],[1.4820,0.118],[1.4844,0.071],[1.4755,0.090],[1.4771,0.052],[1.4691,0.090],[1.4658,0.034],[1.4610,0.052],[1.4602,0.109],[1.4562,0.090],[1.4481,0.052],[1.4457,0.090],[1.4449,0.146],[1.4602,1.197],[1.4602,1.113],
[1.4305,0.10],[1.4315,0.28],[1.4325,0.15],[1.4335,0.06],[1.4348,0.22],[1.4358,0.12],[1.4372,0.35],[1.4380,0.18],[1.4395,0.42],[1.4402,0.30],[1.4405,0.38],[1.4412,0.55],[1.4418,0.44],[1.4422,0.26],[1.4428,0.12],[1.4436,0.20],[1.4445,0.07],[1.4455,0.30],[1.4462,0.18],[1.4470,0.40],[1.4478,0.22],[1.4485,0.15],[1.4495,0.33],[1.4508,0.25],[1.4515,0.42],[1.4520,0.20],[1.4532,0.13],[1.4540,0.06],[1.4548,0.28],[1.4555,0.10],[1.4570,0.24],[1.4585,0.14],[1.4598,0.42],[1.4602,0.38],[1.4615,0.20],[1.4630,0.28],[1.4645,0.12],[1.4660,0.22],[1.4670,0.06],[1.4680,0.30],[1.4695,0.14],[1.4705,0.25],[1.4712,0.34],[1.4725,0.10],[1.4735,0.18],[1.4745,0.46],[1.4750,0.30],[1.4760,0.14],[1.4768,0.22],[1.4775,0.40],[1.4782,0.56],[1.4790,0.34],[1.4798,0.12],[1.4808,0.22],[1.4815,0.30],[1.4825,0.26],[1.4832,0.18],[1.4845,0.22],[1.4855,0.12],[1.4865,0.30],[1.4872,0.06],[1.4880,0.26],[1.4890,0.16],[1.4898,0.08],
[1.5013,0.184],[1.5021,0.109],[1.5029,0.371],[1.5032,0.428],[1.5037,0.240],[1.5045,0.315],[1.5053,0.165],[1.5045,0.071],[1.5061,0.090],[1.5070,0.822],[1.5070,0.794],[1.5078,0.315],[1.5078,0.691],[1.5094,0.240],[1.5102,0.296],[1.5110,0.390],[1.5118,0.240],[1.5118,0.653],[1.5126,0.165],[1.5126,0.090],[1.5142,0.278],[1.5150,0.334],[1.5158,0.465],[1.5158,0.203],[1.5166,0.127],[1.5174,0.634],[1.5174,0.278],[1.5182,0.559],[1.5182,0.146],[1.5191,0.409],[1.5191,0.315],[1.5199,0.240],[1.5207,0.203],[1.5207,0.090],[1.5223,0.315],[1.5231,0.221],[1.5231,0.165],[1.5239,0.278],[1.5239,0.109],[1.5247,0.071],[1.5247,0.353],[1.5255,0.240],[1.5263,0.146],[1.5271,0.447],[1.5279,0.540],[1.5279,0.315],[1.5287,0.090],[1.5295,0.672],[1.5303,0.353],[1.5303,0.240],[1.5311,0.146],[1.5320,0.634],[1.5328,0.409],[1.5336,0.484],[1.5344,0.315],[1.5344,0.146],[1.5352,0.522],[1.5360,0.090],[1.5368,0.259],[1.5368,0.916],[1.5376,0.409],[1.5384,0.841],[1.5384,0.615],[1.5392,0.203],[1.5392,0.127],[1.5400,0.315],[1.5400,0.428],[1.5408,0.766],[1.5408,0.484],[1.5416,0.334],[1.5416,0.165],[1.5424,0.578],[1.5433,0.615],[1.5433,0.428],[1.5441,0.146],[1.5441,0.353],[1.5449,0.465],[1.5457,0.165],[1.5465,0.240],[1.5465,0.540],[1.5473,0.259],[1.5473,0.071],[1.5481,0.409],[1.5489,0.859],[1.5489,0.897],[1.5497,0.822],[1.5497,0.203],[1.5505,0.803],[1.5505,0.540],[1.5513,0.672],[1.5513,0.353],[1.5521,0.090],[1.5521,0.428],[1.5529,0.165],[1.5537,0.278],[1.5545,0.390],[1.5545,0.522],[1.5553,0.709],[1.5553,0.146],[1.5561,0.203],[1.5570,0.465],[1.5578,0.578],[1.5578,0.165],[1.5586,0.240],[1.5594,0.127],[1.5594,0.522],[1.5602,0.578],[1.5602,0.540],[1.5610,0.315],[1.5610,0.841],[1.5618,0.615],[1.5618,0.953],[1.5626,0.127],[1.5634,0.090],[1.5642,0.165],[1.5642,0.578],[1.5650,0.221],[1.5658,0.822],[1.5658,0.991],[1.5666,0.428],[1.5675,0.240],[1.5683,0.315],[1.5691,0.165],[1.5691,0.653],[1.5699,0.597],[1.5699,0.090],[1.5279,1.081],
[1.5094,0.165],[1.5110,0.127],[1.5134,0.203],[1.5215,0.127],[1.5255,0.090],[1.5320,0.165],[1.5352,0.203],[1.5384,0.071],[1.5449,0.127],[1.5497,0.071],[1.5561,0.090],[1.5626,0.203],[1.5658,0.127],[1.5675,0.071],[1.5158,0.071],[1.5191,0.240],[1.5223,0.165],[1.5271,0.203],[1.5215,0.278],[1.5174,0.353],[1.5142,0.165],[1.5094,0.127],[1.5239,0.203],
[1.5025,0.26],[1.5040,0.14],[1.5050,0.42],[1.5060,0.20],[1.5072,0.12],[1.5085,0.28],[1.5098,0.18],[1.5106,0.26],[1.5115,0.30],[1.5125,0.28],[1.5132,0.26],[1.5140,0.30],[1.5148,0.22],[1.5155,0.28],[1.5165,0.24],[1.5172,0.30],[1.5180,0.26],[1.5188,0.20],[1.5196,0.12],[1.5204,0.28],[1.5212,0.18],[1.5220,0.24],[1.5228,0.14],[1.5236,0.06],[1.5245,0.25],[1.5252,0.18],[1.5260,0.38],[1.5268,0.12],[1.5276,0.30],[1.5285,0.08],[1.5292,0.22],[1.5300,0.44],[1.5310,0.28],[1.5318,0.12],[1.5330,0.20],[1.5340,0.36],[1.5355,0.24],[1.5365,0.14],[1.5375,0.30],[1.5388,0.48],[1.5398,0.22],[1.5410,0.10],[1.5420,0.34],[1.5430,0.20],[1.5440,0.26],[1.5452,0.40],[1.5460,0.14],[1.5470,0.30],[1.5485,0.22],[1.5495,0.06],[1.5508,0.28],[1.5515,0.14],[1.5525,0.36],[1.5540,0.20],[1.5550,0.10],[1.5565,0.30],[1.5575,0.16],[1.5585,0.42],[1.5598,0.24],[1.5608,0.12],[1.5620,0.34],[1.5632,0.20],[1.5640,0.08],[1.5650,0.40],[1.5662,0.18],[1.5672,0.28],[1.5685,0.12],[1.5695,0.22]
];

// ---------------- layout & drawing ----------------
const FONT = "'Latin Modern Roman', 'Liberation Serif', serif";
const root = document.getElementById("root");
root.style.fontFamily = FONT;
const frameLefts = [58, 385, 729, 1063];
const frameWidths = [289, 288, 289, 289];
const rowTops = [32, 265];
const rowHeights = [213, 214];
const BAND = "#ffa500";

function addText(html, cls, left, top, width, extraStyle) {
  const d = document.createElement("div");
  d.className = cls;
  d.innerHTML = html;
  d.style.fontFamily = FONT;
  d.style.left = left + "px";
  d.style.top = top + "px";
  if (width != null) d.style.width = width + "px";
  if (extraStyle) Object.assign(d.style, extraStyle);
  root.appendChild(d);
  return d;
}

function panel(col, row, yOpts, marks) {
  const ML = 56, MR = 4, MT = 4, MB = row === 1 ? 34 : 12;
  const fw = frameWidths[col], fh = rowHeights[row];
  const svg = Plot.plot({
    width: ML + fw + MR,
    height: MT + fh + MB,
    marginLeft: ML, marginRight: MR, marginTop: MT, marginBottom: MB,
    style: {fontFamily: FONT, fontSize: "22px", color: "#222", background: "transparent", overflow: "visible"},
    x: {domain: [1.43, 1.57], ticks: xTicks, tickFormat: row === 1 ? (d => d.toFixed(2)) : (() => ""), tickSize: 5, tickPadding: 3, label: null},
    y: Object.assign({tickSize: 5, tickPadding: 4, label: null}, yOpts),
    marks: [...marks, Plot.frame({stroke: "#444", strokeWidth: 1.4})]
  });
  svg.querySelectorAll("text").forEach(t => {
    t.style.fontFamily = FONT;
    t.style.fontSize = "22px";
    t.style.fill = "#222";
  });
  const d = document.createElement("div");
  d.className = "panel";
  d.style.left = (frameLefts[col] - ML) + "px";
  d.style.top = (rowTops[row] - MT) + "px";
  d.appendChild(svg);
  root.appendChild(d);
}

const X = d => d[0], Y = d => d[1];

function deltaMarks(data, fill) {
  return [
    Plot.dot(data, {x: X, y: Y, symbol: "diamond2", r: 3.8, fill: fill, fillOpacity: 0.5, stroke: "none", clip: true}),
    Plot.ruleX([1.5], {y1: -0.0008, y2: 0.06, stroke: BAND, strokeOpacity: 0.27, strokeWidth: 5, clip: true}),
    Plot.line(medX.map((x, i) => [x, medY[i]]), {x: X, y: Y, stroke: "#2b2b2b", strokeOpacity: 0.78, strokeWidth: 4.5, strokeDasharray: "16,9", clip: true})
  ];
}

function histMarks(counts, fill) {
  const steps = binEdges.map((e, i) => ({x: e, c: counts[Math.min(i, counts.length - 1)]}));
  return [
    Plot.areaY(steps, {x: "x", y: "c", curve: "step-after", fill: fill, clip: true}),
    Plot.ruleX([1.5], {stroke: BAND, strokeOpacity: 0.3, strokeWidth: 5, clip: true}),
    Plot.line(steps, {x: "x", y: "c", curve: "step-after", stroke: "#95a5a6", strokeOpacity: 0.95, strokeWidth: 5, strokeLinejoin: "miter", clip: true}),
    Plot.ruleY([20], {stroke: "#000", strokeWidth: 1.1, strokeDasharray: "1.2,2.6"})
  ];
}

function eccMarks(data, opacity) {
  return [
    Plot.ruleX([1.5], {stroke: BAND, strokeOpacity: 0.27, strokeWidth: 6, clip: true}),
    Plot.dot(data, {x: X, y: Y, r: 3.3, fill: "#7a7a7a", fillOpacity: opacity, stroke: "none", clip: true}),
    Plot.line(eForcedLeft, {x: X, y: Y, curve: "monotone-x", stroke: "#d8671c", strokeWidth: 3, clip: true}),
    Plot.line(eForcedRight, {x: X, y: Y, curve: "monotone-x", stroke: "#d8671c", strokeWidth: 3, clip: true})
  ];
}

function incMarks(data, opacity) {
  return [
    Plot.ruleX([1.5], {stroke: BAND, strokeOpacity: 0.27, strokeWidth: 5, clip: true}),
    Plot.dot(data, {x: X, y: Y, r: 3.1, fill: "#7a7a7a", fillOpacity: opacity, stroke: "none", clip: true})
  ];
}

const f2 = d => d.toFixed(2), f1 = d => d.toFixed(1), f0 = d => String(d);

// top row (N = 50)
panel(0, 0, {domain: [-0.0048, 0.047], ticks: [0, 0.02, 0.04], tickFormat: f2}, deltaMarks(dpTop, "#b9b063"));
panel(1, 0, {domain: [0, 38.5], ticks: [0, 10, 20, 30], tickFormat: f0}, histMarks(countsTop, "#dedab4"));
panel(2, 0, {domain: [-0.001, 0.05], ticks: [0, 0.02, 0.04], tickFormat: f2}, eccMarks(ecTop, 0.95));
panel(3, 0, {domain: [0, 1.2], ticks: [0, 0.5, 1.0], tickFormat: f1}, incMarks(incTop, 0.9));
// bottom row (N = 5)
panel(0, 1, {domain: [-0.0048, 0.047], ticks: [0, 0.02, 0.04], tickFormat: f2}, deltaMarks(dpBot, "#2e8b57"));
panel(1, 1, {domain: [0, 36.5], ticks: [0, 10, 20, 30], tickFormat: f0}, histMarks(countsBot, "#97c4a8"));
panel(2, 1, {domain: [-0.0009, 0.05], ticks: [0, 0.02, 0.04], tickFormat: f2}, eccMarks(ecBot, 0.6));
panel(3, 1, {domain: [0, 1.207], ticks: [0, 0.5, 1.0], tickFormat: f1}, incMarks(incBot, 0.55));

// titles and axis labels
titles.forEach((t, i) => {
  const c = frameLefts[i] + frameWidths[i] / 2;
  addText(t, "t", c - 150, 4, 300);
});
xLabels.forEach((t, i) => {
  const c = frameLefts[i] + frameWidths[i] / 2;
  addText(t, "t xl", c - 150, 515, 300);
});
// annotation boxes
addText(boxLabels[0], "box", 159, 36, 168, {height: "21px"});
addText(boxLabels[1], "box", 180, 270, 157, {height: "22px"});
// e_forced label
addText('<i>e</i><sub style="font-size:64%">forced</sub>', "t", 882, 80, null, {color: "#e07b39", fontSize: "23px", textAlign: "left"});
</script>
</body>
</html>
